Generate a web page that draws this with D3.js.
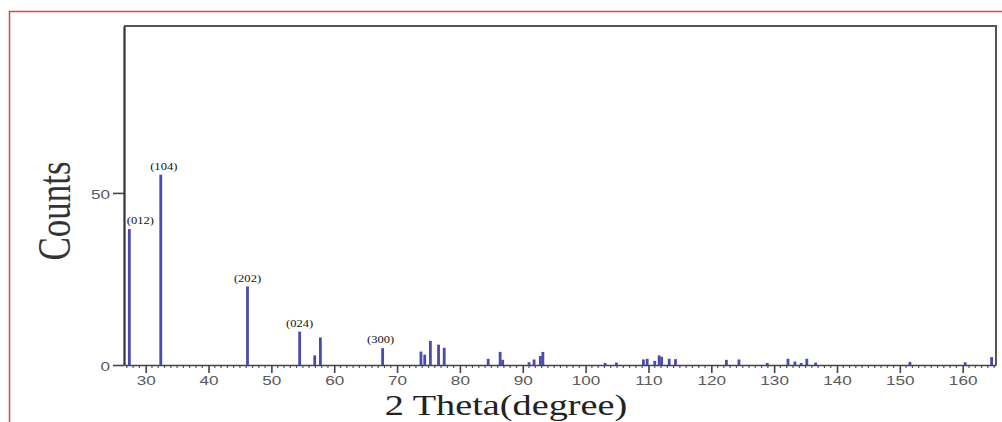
<!DOCTYPE html>
<html>
<head>
<meta charset="utf-8">
<script src="https://cdn.jsdelivr.net/npm/d3@7"></script>
<style>
  body { margin: 0; background: #fff; }
  .tick text { font-family: "Liberation Sans", Arial, sans-serif; font-size: 13px; fill: #5a5a5a; }
</style>
</head>
<body>
<div id="chart"></div>
<script>
// Peak positions (2 theta, degrees) and intensities
var twoTheta = [27.4, 32.4, 46.2, 54.5, 56.9, 57.8, 67.7, 73.8, 74.4, 75.3, 76.6, 77.5,
  84.5, 86.4, 86.8, 91.0, 91.8, 92.8, 93.2, 103.1, 104.9, 109.2, 109.8, 111.0, 111.7,
  112.1, 113.3, 114.3, 122.4, 124.4, 128.9, 132.2, 133.3, 134.3, 135.2, 136.6, 151.6,
  160.4, 164.6];
var counts = [39.5, 55.3, 22.8, 9.7, 2.8, 8.0, 4.9, 3.9, 3.0, 7.0, 5.9, 5.0,
  1.8, 3.8, 1.5, 0.8, 1.6, 2.6, 3.8, 0.6, 0.7, 1.6, 1.8, 1.2, 2.8,
  2.4, 1.8, 1.7, 1.5, 1.6, 0.6, 1.8, 1.0, 0.6, 1.8, 0.7, 0.9,
  0.8, 2.3];

// Miller index labels and which peak they belong to
var hklPeaks = [27.4, 32.4, 46.2, 54.5, 67.7];
var hklLabels = ["(012)", "(104)", "(202)", "(024)", "(300)"];

var xTicks = [30, 40, 50, 60, 70, 80, 90, 100, 110, 120, 130, 140, 150, 160];
var yTicks = [0, 50];

var svgWidth = 1002;
var svgHeight = 422;
var stretch = 1.32; // the picture is wider than tall, text looks stretched

var svg = d3.select("#chart")
  .append("svg")
  .attr("width", svgWidth)
  .attr("height", svgHeight);

// red outline round the picture
svg.append("rect")
  .attr("x", 9.5).attr("y", 11.5)
  .attr("width", 1000).attr("height", 420)
  .attr("fill", "none")
  .attr("stroke", "#e04545")
  .attr("stroke-width", 1.5);

var xScale = d3.scaleLinear()
  .domain([26.55, 165.3])
  .range([124, 996]);

var yScale = d3.scaleLinear()
  .domain([0, 98.5])
  .range([365, 26]);

var peaks = twoTheta.map((t, i) => ({ t: t, c: counts[i] }));

// frame top and right
svg.append("path")
  .attr("d", `M${xScale.range()[0]},${yScale.range()[1]}H${xScale.range()[1]}V${yScale.range()[0]}`)
  .attr("fill", "none")
  .attr("stroke", "#555")
  .attr("stroke-width", 2);

// minor ticks every degree
var minor = d3.range(27, 166).filter(d => d % 10 !== 0);
svg.append("g")
  .selectAll("line")
  .data(minor)
  .enter()
  .append("line")
  .attr("x1", d => xScale(d)).attr("x2", d => xScale(d))
  .attr("y1", yScale(0)).attr("y2", yScale(0) + 3)
  .attr("stroke", "#555")
  .attr("stroke-width", 1.2);

// x axis
var xAxis = svg.append("g")
  .attr("transform", `translate(0, ${yScale(0)})`)
  .call(d3.axisBottom(xScale).tickValues(xTicks).tickSize(8).tickSizeOuter(0));
xAxis.selectAll("path, line").attr("stroke", "#444").attr("stroke-width", 1.6);
xAxis.selectAll("text")
  .attr("y", 11)
  .attr("transform", `scale(${stretch},1)`);

// y axis
var yAxis = svg.append("g")
  .attr("transform", `translate(${xScale.range()[0]}, 0)`)
  .call(d3.axisLeft(yScale).tickValues(yTicks).tickSize(11).tickSizeOuter(0));
yAxis.selectAll("path").attr("stroke", "#333").attr("stroke-width", 2.2);
yAxis.selectAll("line").attr("stroke", "#444").attr("stroke-width", 1.6);
// scaled text, stretched about a point just left of the tick
yAxis.selectAll("text")
  .attr("x", -14)
  .attr("dy", "0.4em")
  .attr("text-anchor", "end")
  .style("transform", `scaleX(${stretch})`)
  .style("transform-origin", "-14px 0px");

// peaks
svg.append("g")
  .selectAll("rect")
  .data(peaks)
  .enter()
  .append("rect")
  .attr("x", d => xScale(d.t) - 1.4)
  .attr("y", d => yScale(d.c))
  .attr("width", 2.8)
  .attr("height", d => yScale(0) - yScale(d.c))
  .attr("fill", "#4b4bac");

// hkl labels
var labelNudge = [11, 3, 0, 0, -2];
svg.append("g")
  .selectAll("text")
  .data(hklLabels)
  .enter()
  .append("text")
  .attr("transform", (d, i) => {
    var p = peaks.find(q => q.t === hklPeaks[i]);
    return `translate(${xScale(p.t) + labelNudge[i]}, ${yScale(p.c) - 5}) scale(${stretch},1)`;
  })
  .attr("text-anchor", "middle")
  .style("font-family", "'Liberation Serif', 'Times New Roman', serif")
  .style("font-size", "9.5px")
  .style("fill", "#111")
  .text(d => d);

// axis titles
svg.append("text")
  .attr("transform", `translate(70, 211) scale(${stretch},1) rotate(-90)`)
  .attr("text-anchor", "middle")
  .style("font-family", "'Liberation Serif', 'Times New Roman', serif")
  .style("font-size", "35px")
  .style("fill", "#333")
  .text("Counts");

svg.append("text")
  .attr("transform", `translate(506, 415) scale(${stretch},1)`)
  .attr("text-anchor", "middle")
  .style("font-family", "'Liberation Serif', 'Times New Roman', serif")
  .style("font-size", "29px")
  .style("fill", "#222")
  .text("2 Theta(degree)");
</script>
</body>
</html>
